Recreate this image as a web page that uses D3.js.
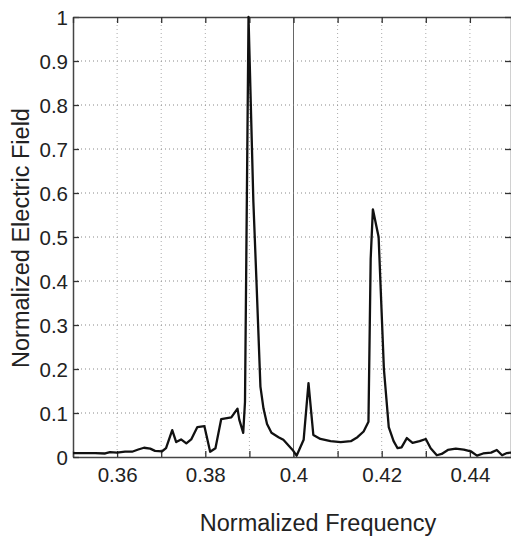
<!DOCTYPE html>
<html lang="en">
<head>
<meta charset="utf-8">
<title>Normalized Electric Field</title>
<script src="https://cdn.jsdelivr.net/npm/d3@7"></script>
<style>
  body { margin: 0; background: #fff; }
  svg { display: block; font-family: "Liberation Sans", Arial, sans-serif; }
</style>
</head>
<body>
<script>
// spectrum
var freq = [0.3500, 0.3550, 0.3573, 0.3584, 0.3600, 0.3618, 0.3634, 0.3648, 0.3661, 0.3675,
            0.3686, 0.3702, 0.3711, 0.3725, 0.3734, 0.3745, 0.3757, 0.3768, 0.3782, 0.3798,
            0.3811, 0.3823, 0.3836, 0.3859, 0.3873, 0.3877, 0.3886, 0.3890, 0.3898, 0.3909,
            0.3916, 0.3925, 0.3932, 0.3940, 0.3950, 0.3966, 0.3977, 0.3998, 0.4007, 0.4023,
            0.4034, 0.4045, 0.4061, 0.4084, 0.4107, 0.4130, 0.4145, 0.4159, 0.4170, 0.4175,
            0.4180, 0.4193, 0.4205, 0.4216, 0.4227, 0.4236, 0.4245, 0.4257, 0.4270, 0.4286,
            0.4300, 0.4311, 0.4325, 0.4336, 0.4350, 0.4368, 0.4386, 0.4402, 0.4416, 0.4430,
            0.4448, 0.4461, 0.4473, 0.4484, 0.4495];
var field = [0.009, 0.009, 0.008, 0.011, 0.010, 0.012, 0.012, 0.017, 0.021, 0.019,
             0.014, 0.013, 0.020, 0.061, 0.034, 0.040, 0.031, 0.040, 0.068, 0.070,
             0.012, 0.020, 0.086, 0.090, 0.110, 0.085, 0.055, 0.125, 1.000, 0.580,
             0.400, 0.160, 0.110, 0.075, 0.055, 0.045, 0.039, 0.016, 0.003, 0.039,
             0.168, 0.050, 0.041, 0.036, 0.034, 0.036, 0.045, 0.058, 0.080, 0.450,
             0.563, 0.500, 0.200, 0.068, 0.036, 0.020, 0.022, 0.043, 0.032, 0.036,
             0.041, 0.020, 0.004, 0.007, 0.016, 0.019, 0.017, 0.013, 0.003, 0.008,
             0.010, 0.016, 0.004, 0.009, 0.010];

var xTicks = [0.35, 0.36, 0.37, 0.38, 0.39, 0.40, 0.41, 0.42, 0.43, 0.44, 0.45];
var xLabels = [0.36, 0.38, 0.40, 0.42, 0.44];
var yTicks = [0, 0.1, 0.2, 0.3, 0.4, 0.5, 0.6, 0.7, 0.8, 0.9, 1];

var w = 511, h = 539;
var mLeft = 73, mRight = 514, mTop = 17, mBottom = 457;

var x = d3.scaleLinear().domain([0.35, 0.45]).range([mLeft, mRight]);
var y = d3.scaleLinear().domain([0, 1]).range([mBottom, mTop]);

var svg = d3.select("body").append("svg")
  .attr("width", w).attr("height", h);

svg.append("rect")
  .attr("x", mLeft).attr("y", mTop)
  .attr("width", mRight - mLeft).attr("height", mBottom - mTop)
  .attr("fill", "#fff");

// grid
function isFour(d) { return Math.abs(d - 0.40) < 1e-9; }

svg.append("g").selectAll("line")
  .data(xTicks.slice(1, -1))
  .enter().append("line")
  .attr("x1", function(d) { return x(d); })
  .attr("x2", function(d) { return x(d); })
  .attr("y1", mTop).attr("y2", mBottom)
  .attr("stroke", function(d) { return isFour(d) ? "#666" : "#aaa"; })
  .attr("stroke-width", 1)
  .attr("stroke-dasharray", function(d) { return isFour(d) ? null : "1,3"; });

svg.append("g").selectAll("line")
  .data(yTicks.slice(1, -1))
  .enter().append("line")
  .attr("x1", mLeft).attr("x2", mRight)
  .attr("y1", function(d) { return y(d); })
  .attr("y2", function(d) { return y(d); })
  .attr("stroke", "#888")
  .attr("stroke-width", 1)
  .attr("stroke-dasharray", "1,3");

// axes, ticks inward
var xAxis = d3.axisBottom(x).tickValues(xTicks).tickSizeInner(-6).tickSizeOuter(0)
  .tickFormat(function(d) {
    return xLabels.some(function(v) { return Math.abs(v - d) < 1e-9; }) ? d3.format(".2~f")(d) : "";
  });
var gx = svg.append("g").attr("transform", "translate(0," + mBottom + ")").call(xAxis);

var yAxis = d3.axisLeft(y).tickValues(yTicks).tickSizeInner(-6).tickSizeOuter(0)
  .tickFormat(d3.format(".1~f"));
var gy = svg.append("g").attr("transform", "translate(" + mLeft + ",0)").call(yAxis);

var gTop = svg.append("g").attr("transform", "translate(0," + mTop + ")")
  .call(d3.axisTop(x).tickValues(xTicks).tickSizeInner(-6).tickSizeOuter(0).tickFormat(""));
var gRight = svg.append("g").attr("transform", "translate(" + (mRight - 3) + ",0)")
  .call(d3.axisRight(y).tickValues(yTicks).tickSizeInner(-6).tickSizeOuter(0).tickFormat(""));

[gx, gy, gTop, gRight].forEach(function(g) {
  g.attr("font-size", null).attr("font-family", null);
  g.select(".domain").attr("stroke", "#444").attr("stroke-width", 1.5);
  g.selectAll(".tick line").attr("stroke", "#333").attr("stroke-width", 1.3);
  g.selectAll(".tick text").attr("fill", "#222").attr("font-size", 20.5);
});
gx.selectAll(".tick text").attr("y", 10).attr("dy", "0.71em");
gy.selectAll(".tick text").attr("x", -5).attr("dy", "0.36em");

// curve
var pts = freq.map(function(f, i) { return [f, field[i]]; });
var line = d3.line()
  .x(function(d) { return x(d[0]); })
  .y(function(d) { return y(d[1]); });

svg.append("path")
  .datum(pts)
  .attr("fill", "none")
  .attr("stroke", "#111")
  .attr("stroke-width", 2.3)
  .attr("stroke-linejoin", "round")
  .attr("d", line);

// titles
svg.append("text")
  .attr("x", 318).attr("y", 531)
  .attr("text-anchor", "middle")
  .attr("fill", "#222")
  .attr("font-size", 23.5)
  .text("Normalized Frequency");

svg.append("text")
  .attr("transform", "translate(29,238) rotate(-90)")
  .attr("text-anchor", "middle")
  .attr("fill", "#222")
  .attr("font-size", 23.5)
  .text("Normalized Electric Field");
</script>
</body>
</html>
